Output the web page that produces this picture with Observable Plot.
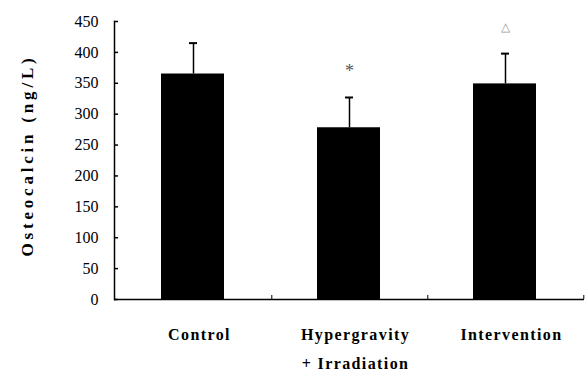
<!DOCTYPE html>
<html>
<head>
<meta charset="utf-8">
<script src="https://cdn.jsdelivr.net/npm/d3@7"></script>
<script src="https://cdn.jsdelivr.net/npm/@observablehq/plot@0.6"></script>
<style>
  html, body { margin: 0; padding: 0; background: #fff; }
  #chart svg { display: block; }
</style>
</head>
<body>
<div id="chart"></div>
<script>
const categories = ["Control", "Hypergravity\n+ Irradiation", "Intervention"];
const means = [365, 278, 349];
const sds = [50, 49, 49];
const marks = ["", "*", "△"];
const markColors = ["#000", "#555", "#999"];
const yTicks = [0, 50, 100, 150, 200, 250, 300, 350, 400, 450];
const yLabel = "Osteocalcin (ng/L)";

const data = categories.map((c, i) => ({cat: c, mean: means[i], sd: sds[i], top: means[i] + sds[i], mark: marks[i], color: markColors[i]}));

const font = "'Liberation Serif', 'Times New Roman', serif";

const chart = Plot.plot({
  width: 587,
  height: 379,
  marginLeft: 114,
  marginRight: 3,
  marginTop: 21,
  marginBottom: 80,
  style: {fontFamily: font, background: "#fff", color: "#000"},
  x: {domain: categories, padding: 0},
  y: {domain: [0, 450]},
  marks: [
    Plot.barY(data, {x: "cat", y: "mean", fill: "#000", insetLeft: 46, insetRight: 47}),
    Plot.ruleX(data, {x: "cat", y1: "mean", y2: "top", stroke: "#000", strokeWidth: 1.5}),
    Plot.tickY(data, {x: "cat", y: "top", stroke: "#000", strokeWidth: 2, insetLeft: 74, insetRight: 74}),
    Plot.text(data.filter(d => d.mark === "*"), {x: "cat", y: "top", text: "mark", fill: "color", dy: -26, fontSize: 18}),
    Plot.text(data.filter(d => d.mark === "△"), {x: "cat", y: "top", text: "mark", fill: "color", dy: -26, fontSize: 12}),
    Plot.ruleY([0], {stroke: "#000", strokeWidth: 1.5}),
    Plot.frame({anchor: "left", stroke: "#000", strokeWidth: 1.5}),
    Plot.axisY(yTicks, {tickSize: -4, tickPadding: 20, fontSize: 16, label: null, stroke: "#000", strokeWidth: 1.5}),
    Plot.axisX({tickSize: -4, dx: 78.3, tickFormat: () => "", label: null, stroke: "#000"}),
    Plot.axisX({tickSize: 0, tickPadding: 19, fontSize: 16, fontWeight: "bold", lineHeight: 1.85, dx: 6, label: null}),
    Plot.text([yLabel], {frameAnchor: "left", dx: -87, dy: -5, rotate: -90, textAnchor: "middle", text: d => d, fontSize: 17, fontWeight: "bold", fill: "#000"})
  ]
});
d3.select(chart).selectAll("text").each(function() {
  const t = this.textContent;
  if (t === yLabel) d3.select(this).style("letter-spacing", "3.8px");
  else if (categories.some(c => c.replace("\n", "") === t)) d3.select(this).style("letter-spacing", "1.4px");
});
document.getElementById("chart").appendChild(chart);
</script>
</body>
</html>
